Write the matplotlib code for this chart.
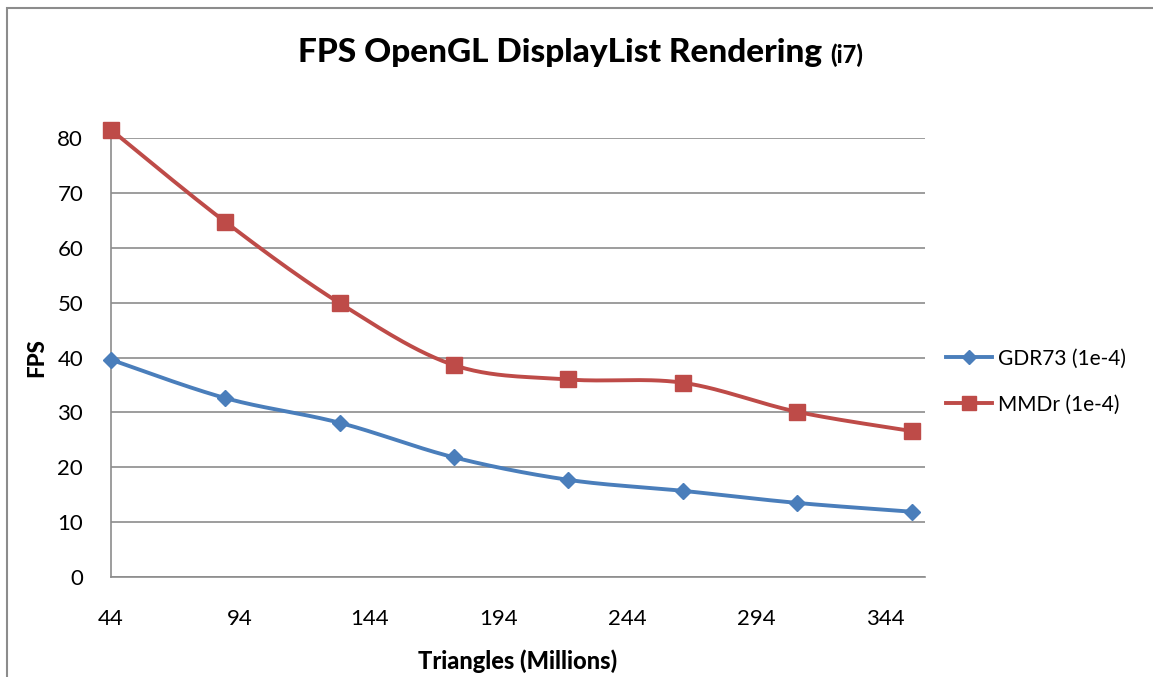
import numpy as np
import matplotlib.pyplot as plt
from matplotlib.patches import Rectangle

# triangles (millions) and fps
triangles = [44.3, 88.6, 132.9, 177.2, 221.5, 265.8, 310.1, 354.4]
gdr73 = [39.6, 32.6, 28.1, 21.8, 17.7, 15.7, 13.5, 11.9]
mmdr = [81.5, 64.7, 49.9, 38.6, 36.0, 35.4, 30.1, 26.6]
xticks = [44.3, 94.3, 144.3, 194.3, 244.3, 294.3, 344.3]
xticklabels = ["44", "94", "144", "194", "244", "294", "344"]

blue = "#4A7EBB"
red = "#BE4B48"
grid_c = "#8C8C8C"

plt.rcParams['font.family'] = ['Lato', 'DejaVu Sans']


def smooth(x, y, n=30):
    # excel-like bezier smoothing through the points
    p = np.column_stack([x, y])
    out = [p[0]]
    for i in range(len(p) - 1):
        p0 = p[i - 1] if i > 0 else p[i]
        p1, p2 = p[i], p[i + 1]
        p3 = p[i + 2] if i + 2 < len(p) else p[i + 1]
        c1 = p1 + (p2 - p0) / 6
        c2 = p2 - (p3 - p1) / 6
        t = np.linspace(0, 1, n)[1:, None]
        seg = (1 - t) ** 3 * p1 + 3 * (1 - t) ** 2 * t * c1 + 3 * (1 - t) * t ** 2 * c2 + t ** 3 * p2
        out.extend(seg)
    out = np.array(out)
    return out[:, 0], out[:, 1]


fig = plt.figure(figsize=(11.53, 6.77), dpi=100)
ax = fig.add_axes([111 / 1153, 1 - 577 / 677, (925 - 111) / 1153, (577 - 138) / 677])

# chart border
fig.patches.append(Rectangle((7 / 1153, -0.1), 1.2, 1 - 8 / 677 + 0.1, transform=fig.transFigure,
                             fill=False, edgecolor="#8C8C8C", linewidth=1.5))

for vals, col, mk, ms, lab in [(gdr73, blue, "D", 8, "GDR73 (1e-4)"),
                               (mmdr, red, "s", 11.5, "MMDr (1e-4)")]:
    sx, sy = smooth(triangles, vals)
    ax.plot(sx, sy, color=col, linewidth=2.8, clip_on=False, solid_capstyle="round")
    ax.plot(triangles, vals, linestyle="none", marker=mk, markersize=ms, color=col,
            clip_on=False, zorder=4)
    ax.plot([], [], color=col, linewidth=2.8, marker=mk, markersize=ms * 0.85, label=lab)

ax.set_xlim(44.3, 359.6)
ax.set_ylim(0, 80)
ax.set_yticks(range(0, 90, 10))
ax.set_xticks(xticks)
ax.set_xticklabels(xticklabels)
ax.yaxis.grid(True, color=grid_c, linewidth=1.2)
ax.set_axisbelow(True)
ax.tick_params(length=0, labelsize=16)
ax.tick_params(axis="x", pad=23)
ax.tick_params(axis="y", pad=20)
for s in ["top", "right"]:
    ax.spines[s].set_visible(False)
for s in ["left", "bottom"]:
    ax.spines[s].set_color(grid_c)
    ax.spines[s].set_linewidth(1.2)

ax.set_xlabel("Triangles (Millions)", fontsize=17, fontweight="black", labelpad=15)
ax.set_ylabel("FPS", fontsize=16, fontweight="black", labelpad=7)

fig.text(822 / 1153, 0.923, "FPS OpenGL DisplayList Rendering", fontsize=24, fontweight="black",
         ha="right", va="center")
fig.text(830 / 1153, 0.918, "(i7)", fontsize=17, fontweight="black", ha="left", va="center")

ax.legend(loc="center left", bbox_to_anchor=(1.0, 0.445), frameon=False, fontsize=15,
          handlelength=2.2, labelspacing=1.25, handletextpad=0.3, borderaxespad=0.6)

fig.savefig("out.png", dpi=100)
